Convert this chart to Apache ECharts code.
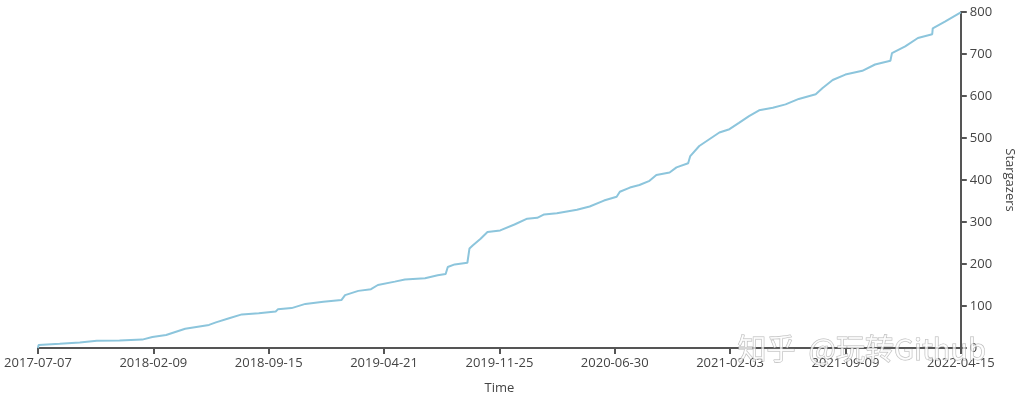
<!DOCTYPE html>
<html>
<head>
<meta charset="utf-8">
<script src="https://cdn.jsdelivr.net/npm/echarts@6/dist/echarts.min.js"></script>
<style>html,body{margin:0;padding:0;background:#fff}#c{width:1024px;height:400px}</style>
</head>
<body>
<div id="c"></div>
<script>
// Days since 2017-07-07
const dayOffsets = [0,1,41,79,111,154,197,216,242,278,323,336,361,385,417,449,453,479,505,539,573,580,605,629,642,674,693,731,755,770,774,787,811,815,821,836,849,873,900,924,943,956,980,1018,1042,1069,1093,1099,1118,1136,1155,1168,1193,1206,1228,1232,1249,1268,1287,1306,1324,1343,1362,1388,1412,1437,1469,1482,1501,1525,1557,1581,1610,1613,1638,1662,1689,1690,1713,1743];
const stargazers = [0,7,10,13,17,18,20,26,31,46,55,61,71,80,83,87,92,95,105,110,114,126,136,140,150,158,163,166,173,176,193,199,203,237,244,260,276,280,294,308,310,318,321,329,337,351,360,372,382,388,398,412,418,430,440,457,481,497,513,521,536,552,566,572,580,593,604,619,638,651,660,675,684,702,718,738,747,761,777,799];
const xTickLabels = ['2017-07-07','2018-02-09','2018-09-15','2019-04-21','2019-11-25','2020-06-30','2021-02-03','2021-09-09','2022-04-15'];
const totalDays = 1743;
const yTicks = [0,100,200,300,400,500,600,700,800];

const step = totalDays / (xTickLabels.length - 1);
const data = dayOffsets.map((d, i) => [d, stargazers[i]]);
const font = "'Open Sans', sans-serif";
const chart = echarts.init(document.getElementById('c'));
chart.setOption({
  animation: false,
  grid: {left: 38, right: 58, top: 12, bottom: 50},
  xAxis: {
    type: 'value', min: 0, max: totalDays, interval: step,
    name: 'Time', nameLocation: 'middle', nameGap: 34,
    nameTextStyle: {color: '#444', fontSize: 13, fontFamily: font},
    splitLine: {show: false},
    axisLine: {onZero: false, lineStyle: {color: '#555', width: 2}},
    axisTick: {length: 6, lineStyle: {color: '#555', width: 2}},
    axisLabel: {
      color: '#444', fontSize: 13, fontFamily: font, margin: 9,
      formatter: v => xTickLabels[Math.round(v / step)] || ''
    }
  },
  yAxis: {
    type: 'value', position: 'right', min: yTicks[0], max: yTicks[yTicks.length-1], interval: 100,
    name: 'Stargazers', nameLocation: 'middle', nameRotate: -90, nameGap: 42,
    nameTextStyle: {color: '#444', fontSize: 13, fontFamily: font},
    splitLine: {show: false},
    axisLine: {show: true, onZero: false, lineStyle: {color: '#555', width: 2}},
    axisTick: {show: true, length: 6, lineStyle: {color: '#555', width: 2}},
    axisLabel: {color: '#444', fontSize: 13, fontFamily: font, margin: 9}
  },
  series: [{
    type: 'line', data: data, showSymbol: false,
    lineStyle: {color: '#8cc5dc', width: 2}
  }],
  graphic: [{
    type: 'text', left: 737, top: 334, z: 100,
    style: {
      text: '知乎  @玩转Github', fontSize: 29,
      fontFamily: "'Noto Sans CJK SC', sans-serif",
      fill: 'rgba(255,255,255,0.75)', stroke: 'rgba(120,120,120,0.55)', lineWidth: 1
    }
  }]
});
</script>
</body>
</html>
